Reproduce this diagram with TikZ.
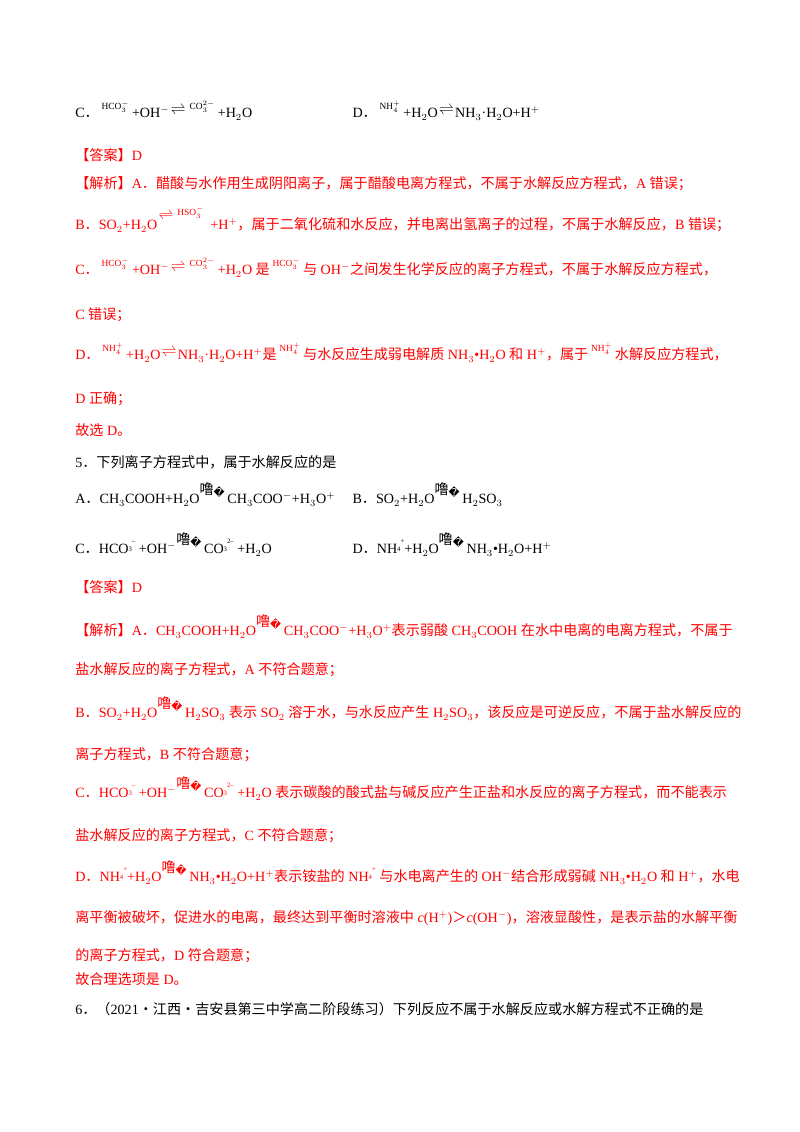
\documentclass[tikz,border=0pt]{standalone}
\usepackage{fontspec}
\setmainfont{Liberation Serif}
\newfontfamily\zh{Noto Sans CJK SC}
\newfontfamily\djv{DejaVu Sans}
\newcommand\ion[1]{\kern2pt\raisebox{1.3ex}{\fontsize{7}{7}\selectfont #1}\kern2pt}
\newcommand\eqa{\kern1pt\raisebox{0.6ex}{$\rightleftharpoons$}\kern1pt}
\newcommand\gb{\raisebox{1.4ex}{\zh 噜}\raisebox{1.1ex}{\djv\fontsize{8}{8}\selectfont �}\kern2pt}
\newcommand\zs[1]{{\zh #1}}
\begin{document}
\begin{tikzpicture}[x=1pt,y=1pt,
  ln/.style={anchor=base west,inner sep=0pt,font=\fontsize{10.5}{12}\selectfont},
  rd/.style={ln,text=red}]
\useasboundingbox (0,0) rectangle (595,842);
\def\Y#1{842-#1/1.3445}
\node[ln] (l1) at (55.8,{\Y{118}}) {C\zs{．}\ion{HCO$_3^-$}+OH$^-$\eqa\ion{CO$_3^{2-}$} +H$_2$O};
\node[ln] (l1b) at (262,{\Y{118}}) {D\zs{．}\ion{NH$_4^+$}+H$_2$O\eqa NH$_3$·H$_2$O+H$^+$};
\node[rd] (l2) at (55.8,{\Y{161}}) {\zs{【答案】}D};
\node[rd] (l3) at (55.8,{\Y{189}}) {\zs{【解析】}A\zs{．醋酸与水作用生成阴阳离子，属于醋酸电离方程式，不属于水解反应方程式，}A \zs{错误；}};
\node[rd] (l4) at (55.8,{\Y{230}}) {B\zs{．}SO$_2$+H$_2$O\raisebox{1ex}{\eqa\ion{HSO$_3^-$}} +H$^+$\zs{，属于二氧化硫和水反应，并电离出氢离子的过程，不属于水解反应，}B \zs{错误；}};
\node[rd] (l5) at (55.8,{\Y{275}}) {C\zs{．}\ion{HCO$_3^-$}+OH$^-$\eqa\ion{CO$_3^{2-}$} +H$_2$O \zs{是}\ion{HCO$_3^-$}\zs{与} OH$^-$\zs{之间发生化学反应的离子方程式，不属于水解反应方程式，}};
\node[rd] (l6) at (55.8,{\Y{320}}) {C \zs{错误；}};
\node[rd] (l7) at (55.8,{\Y{360}}) {D\zs{．}\ion{NH$_4^+$}+H$_2$O\eqa NH$_3$·H$_2$O+H$^+$\zs{是}\ion{NH$_4^+$}\zs{与水反应生成弱电解质} NH$_3$•H$_2$O \zs{和} H$^+$\zs{，属于}\ion{NH$_4^+$}\zs{水解反应方程式，}};
\node[rd] (l8) at (55.8,{\Y{404}}) {D \zs{正确；}};
\node[rd] (l9) at (55.8,{\Y{436}}) {\zs{故选} D\zs{。}};
\node[ln] (q5) at (55.8,{\Y{468}}) {5\zs{．下列离子方程式中，属于水解反应的是}};
\node[ln] (a5) at (55.8,{\Y{504}}) {A\zs{．}CH$_3$COOH+H$_2$O\gb CH$_3$COO$^-$+H$_3$O$^+$};
\node[ln] (b5) at (262,{\Y{504}}) {B\zs{．}SO$_2$+H$_2$O\gb H$_2$SO$_3$};
\node[ln] (c5) at (55.8,{\Y{554}}) {C\zs{．}HCO\raisebox{0.4ex}{\tiny 3}\raisebox{1.6ex}{\tiny --} +OH$^-$\gb CO\raisebox{0.4ex}{\tiny 3}\raisebox{1.6ex}{\tiny 2--}\ +H$_2$O};
\node[ln] (d5) at (262,{\Y{554}}) {D\zs{．}NH\raisebox{0.4ex}{\tiny 4}\raisebox{1.6ex}{\tiny +}+H$_2$O\gb NH$_3$•H$_2$O+H$^+$};
\node[rd] (m2) at (55.8,{\Y{593}}) {\zs{【答案】}D};
\node[rd] (m3) at (55.8,{\Y{636}}) {\zs{【解析】}A\zs{．}CH$_3$COOH+H$_2$O\gb CH$_3$COO$^-$+H$_3$O$^+$\zs{表示弱酸} CH$_3$COOH \zs{在水中电离的电离方程式，不属于}};
\node[rd] (m4) at (55.8,{\Y{675}}) {\zs{盐水解反应的离子方程式，}A \zs{不符合题意；}};
\node[rd] (m5) at (55.8,{\Y{718}}) {B\zs{．}SO$_2$+H$_2$O\gb H$_2$SO$_3$ \zs{表示} SO$_2$ \zs{溶于水，与水反应产生} H$_2$SO$_3$\zs{，该反应是可逆反应，不属于盐水解反应的}};
\node[rd] (m6) at (55.8,{\Y{760}}) {\zs{离子方程式，}B \zs{不符合题意；}};
\node[rd] (m7) at (55.8,{\Y{798}}) {C\zs{．}HCO\raisebox{0.4ex}{\tiny 3}\raisebox{1.6ex}{\tiny --} +OH$^-$\gb CO\raisebox{0.4ex}{\tiny 3}\raisebox{1.6ex}{\tiny 2--}\ +H$_2$O \zs{表示碳酸的酸式盐与碱反应产生正盐和水反应的离子方程式，而不能表示}};
\node[rd] (m8) at (55.8,{\Y{841}}) {\zs{盐水解反应的离子方程式，}C \zs{不符合题意；}};
\node[rd] (m9) at (55.8,{\Y{882}}) {D\zs{．}NH\raisebox{0.4ex}{\tiny 4}\raisebox{1.6ex}{\tiny +}+H$_2$O\gb NH$_3$•H$_2$O+H$^+$\zs{表示铵盐的} NH\raisebox{0.4ex}{\tiny 4}\raisebox{1.6ex}{\tiny +}\ \zs{与水电离产生的} OH$^-$\zs{结合形成弱碱} NH$_3$•H$_2$O \zs{和} H$^+$\zs{，水电}};
\node[rd] (m10) at (55.8,{\Y{923}}) {\zs{离平衡被破坏，促进水的电离，最终达到平衡时溶液中} \textit{c}(H$^+$)\zs{＞}\textit{c}(OH$^-$)\zs{，溶液显酸性，是表示盐的水解平衡}};
\node[rd] (m11) at (55.8,{\Y{961}}) {\zs{的离子方程式，}D \zs{符合题意；}};
\node[rd] (m12) at (55.8,{\Y{985}}) {\zs{故合理选项是} D\zs{。}};
\node[ln] (q6) at (55.8,{\Y{1015}}) {6\zs{．（}2021\zs{·江西·吉安县第三中学高二阶段练习）下列反应不属于水解反应或水解方程式不正确的是}};
\end{tikzpicture}
\end{document}
